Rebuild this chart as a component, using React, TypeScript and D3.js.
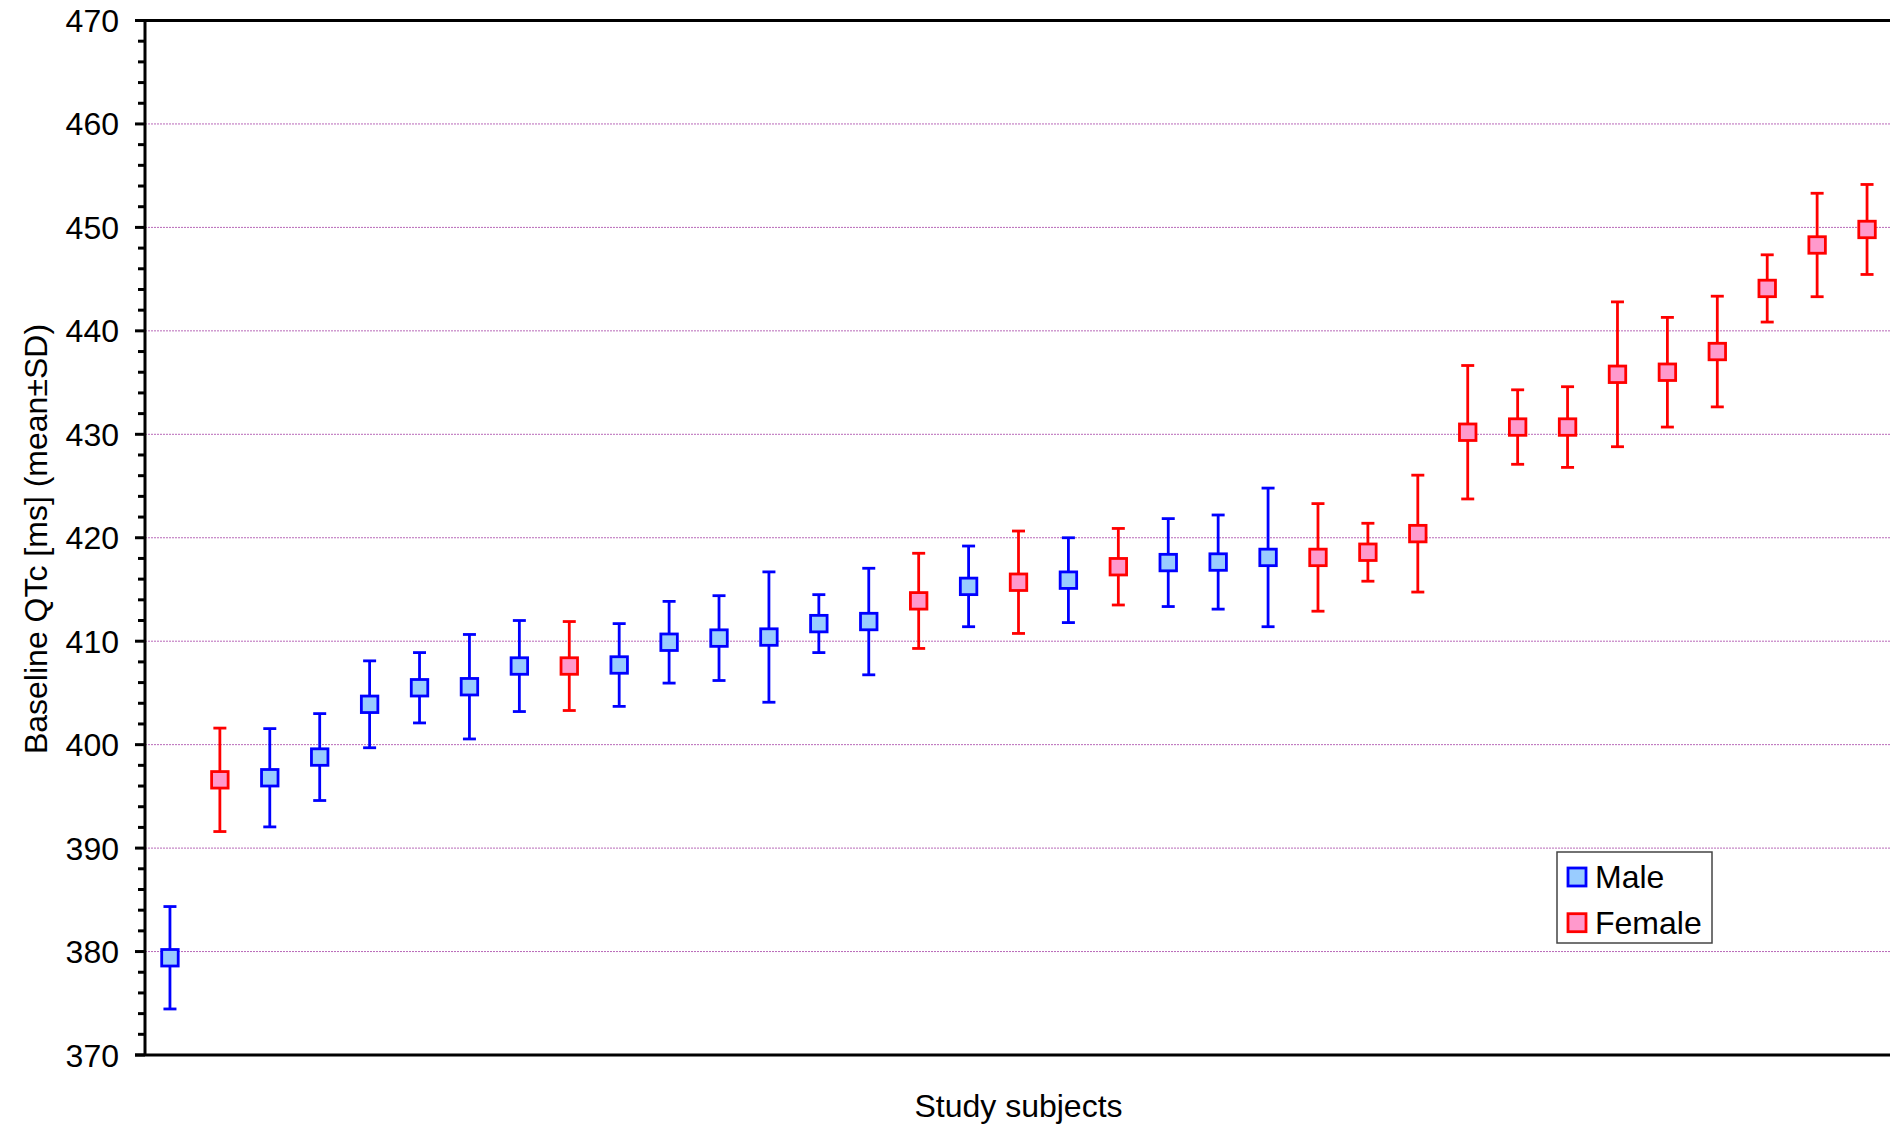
import React from "react";
import * as d3 from "d3";

const subjects = d3.range(1, 36).map((i) => `S${i}`);
const sexes = [
  "M", "F", "M", "M", "M", "M", "M", "M", "F", "M",
  "M", "M", "M", "M", "M", "F", "M", "F", "M", "F",
  "M", "M", "M", "F", "F", "F", "F", "F", "F", "F",
  "F", "F", "F", "F", "F",
];
const means = [
  379.4, 396.6, 396.8, 398.8, 403.9, 405.5, 405.6, 407.6, 407.6, 407.7,
  409.9, 410.3, 410.4, 411.7, 411.9, 413.9, 415.3, 415.7, 415.9, 417.2,
  417.6, 417.65, 418.1, 418.1, 418.6, 420.4, 430.2, 430.7, 430.7, 435.8,
  436.0, 438.0, 444.1, 448.3, 449.8,
];
const sds = [
  4.95, 5.0, 4.75, 4.2, 4.2, 3.4, 5.05, 4.4, 4.3, 4.0,
  3.95, 4.1, 6.3, 2.8, 5.15, 4.6, 3.9, 4.95, 4.1, 3.7,
  4.25, 4.55, 6.7, 5.2, 2.8, 5.65, 6.45, 3.6, 3.9, 7.0,
  5.3, 5.35, 3.25, 5.0, 4.35,
];
const yMajorTicks = [370, 380, 390, 400, 410, 420, 430, 440, 450, 460, 470];
const yMinorTicks = d3.range(372, 470, 2).filter((v) => v % 10 !== 0);
const legendItems = [
  { key: "M", label: "Male" },
  { key: "F", label: "Female" },
];

const styles: Record<string, { stroke: string; fill: string }> = {
  M: { stroke: "#0000FF", fill: "#99CCFF" },
  F: { stroke: "#FF0000", fill: "#FF99CC" },
};

const W = 1890;
const H = 1126;
const left = 145;
const right = 1892;
const top = 20.5;
const bottom = 1055;
const FONT = "'Liberation Sans', Arial, Helvetica, sans-serif";
const FS = 32;

export default function App() {
  const x = d3.scalePoint<string>().domain(subjects).range([left, right]).padding(0.5);
  const y = d3.scaleLinear().domain([370, 470]).range([bottom, top]);
  const cap = 6.5;
  const sq = 16.5;

  return (
    <svg
      width={W}
      height={H}
      style={{ position: "absolute", left: 0, top: 0, background: "#fff" }}
      fontFamily={FONT}
    >
      <rect x={0} y={0} width={W} height={H} fill="#fff" />
      {/* gridlines */}
      {yMajorTicks
        .filter((v) => v > 370 && v < 470)
        .map((v) => (
          <line
            key={`g${v}`}
            x1={left}
            x2={W}
            y1={y(v)}
            y2={y(v)}
            stroke="#B868B8"
            strokeWidth={1}
            strokeDasharray="2,1"
          />
        ))}
      {/* axes */}
      <line x1={left} x2={left} y1={top} y2={bottom} stroke="#000" strokeWidth={3} />
      <line x1={left - 10} x2={W} y1={top} y2={top} stroke="#000" strokeWidth={3} />
      <line x1={left - 10} x2={W} y1={bottom} y2={bottom} stroke="#000" strokeWidth={3} />
      {yMajorTicks.map((v) => (
        <g key={`t${v}`}>
          <line x1={left - 10} x2={left} y1={y(v)} y2={y(v)} stroke="#000" strokeWidth={3} />
          <text x={119} y={y(v) + 11.5} textAnchor="end" fontSize={FS} fill="#000">
            {v}
          </text>
        </g>
      ))}
      {yMinorTicks.map((v) => (
        <line key={`m${v}`} x1={left - 7} x2={left} y1={y(v)} y2={y(v)} stroke="#000" strokeWidth={3} />
      ))}
      {/* error bars */}
      {subjects.map((s, i) => {
        const cx = x(s)!;
        const st = styles[sexes[i]];
        const hi = y(means[i] + sds[i]);
        const lo = y(means[i] - sds[i]);
        return (
          <g key={`e${s}`} stroke={st.stroke} strokeWidth={2.8}>
            <line x1={cx} x2={cx} y1={hi} y2={lo} />
            <line x1={cx - cap} x2={cx + cap} y1={hi} y2={hi} />
            <line x1={cx - cap} x2={cx + cap} y1={lo} y2={lo} />
          </g>
        );
      })}
      {subjects.map((s, i) => {
        const cx = x(s)!;
        const st = styles[sexes[i]];
        const cy = y(means[i]);
        return (
          <rect
            key={`p${s}`}
            x={cx - sq / 2}
            y={cy - sq / 2}
            width={sq}
            height={sq}
            fill={st.fill}
            stroke={st.stroke}
            strokeWidth={2.8}
          />
        );
      })}
      {/* axis titles */}
      <text
        transform={`translate(47, 539) rotate(-90)`}
        textAnchor="middle"
        fontSize={FS}
        fill="#000"
      >
        Baseline QTc [ms] (mean±SD)
      </text>
      <text x={(left + right) / 2} y={1117} textAnchor="middle" fontSize={FS} fill="#000">
        Study subjects
      </text>
      {/* legend */}
      <rect x={1557} y={852} width={155} height={91} fill="#fff" stroke="#444" strokeWidth={1.5} />
      {legendItems.map((it, k) => {
        const cy = 877 + k * 45.7;
        const st = styles[it.key];
        return (
          <g key={it.key}>
            <rect
              x={1568}
              y={cy - 9}
              width={18}
              height={18}
              fill={st.fill}
              stroke={st.stroke}
              strokeWidth={2.8}
            />
            <text x={1595} y={cy + 11} fontSize={FS} fill="#000">
              {it.label}
            </text>
          </g>
        );
      })}
    </svg>
  );
}
